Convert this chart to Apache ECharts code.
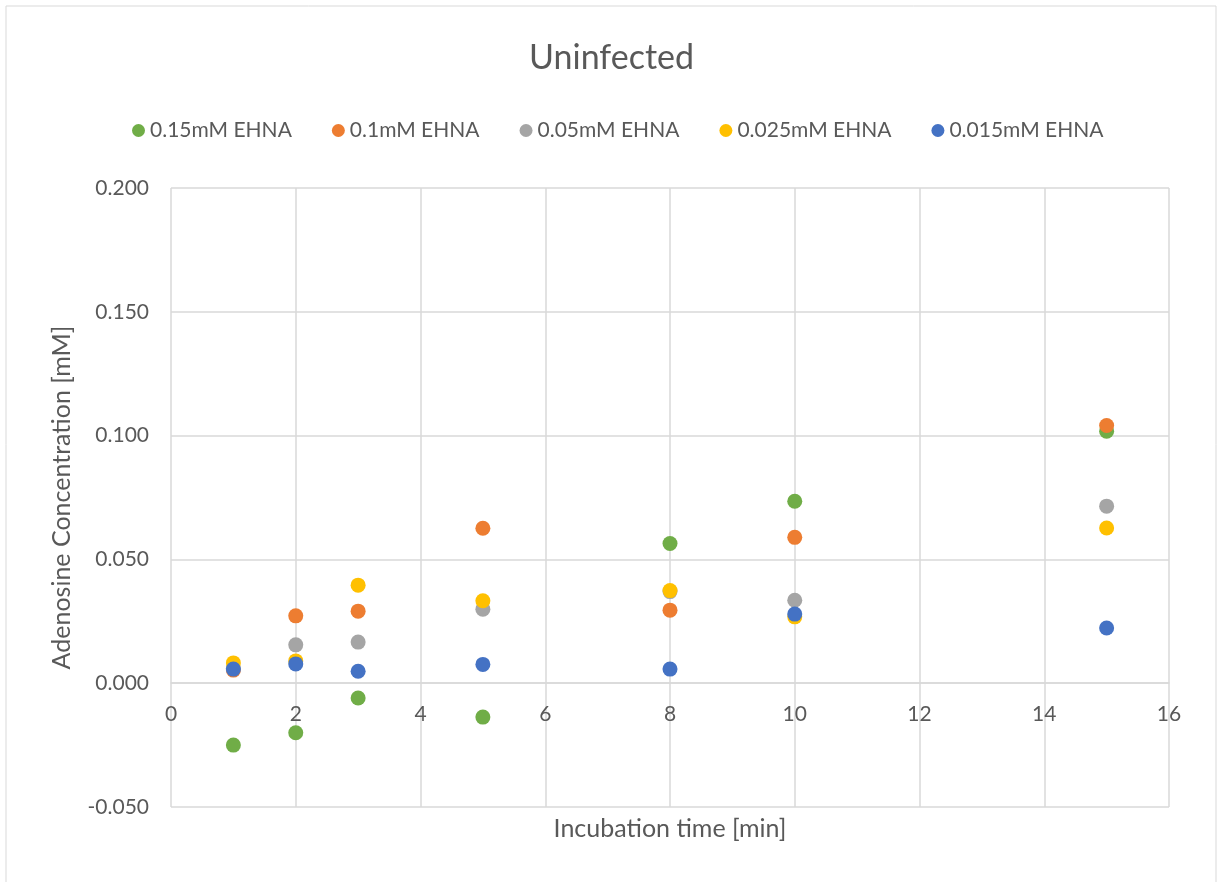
<!DOCTYPE html>
<html>
<head>
<meta charset="utf-8">
<script src="https://cdn.jsdelivr.net/npm/echarts@6/dist/echarts.min.js"></script>
<style>
  html, body { margin: 0; padding: 0; background: #ffffff; }
  #chart { width: 1223px; height: 882px; }
</style>
</head>
<body>
<div id="chart"></div>
<script>
// Incubation times (min) at which adenosine was measured
const times = [1, 2, 3, 5, 8, 10, 15];

// Adenosine concentration (mM) per EHNA dose
const ehna015 = [-0.025, -0.020, -0.006, -0.0137, 0.0564, 0.0735, 0.1018];
const ehna010 = [0.0053, 0.0272, 0.0291, 0.0626, 0.0295, 0.0589, 0.1041];
const ehna005 = [0.0060, 0.0155, 0.0166, 0.0299, 0.0370, 0.0335, 0.0715];
const ehna0025 = [0.0082, 0.0090, 0.0396, 0.0333, 0.0374, 0.0268, 0.0627];
const ehna0015 = [0.0057, 0.0078, 0.0048, 0.0076, 0.0057, 0.0279, 0.0223];

const seriesNames = ['0.15mM EHNA', '0.1mM EHNA', '0.05mM EHNA', '0.025mM EHNA', '0.015mM EHNA'];
const seriesValues = [ehna015, ehna010, ehna005, ehna0025, ehna0015];
const seriesColors = ['#70AD47', '#ED7D31', '#A5A5A5', '#FFC000', '#4472C4'];

// Axis ranges
const xMin = 0, xMax = 16, xStep = 2;
const yMin = -0.05, yMax = 0.2, yStep = 0.05;

const font = 'Lato, "Open Sans", sans-serif';
const textColor = '#595959';
const gridColor = '#d9d9d9';

const gridBox = { left: 171, right: 54, top: 188, bottom: 75 };
const plotCenterX = gridBox.left + (1223 - gridBox.left - gridBox.right) / 2;

const chart = echarts.init(document.getElementById('chart'), null, { renderer: 'canvas' });

chart.setOption({
  backgroundColor: '#ffffff',
  animation: false,
  title: {
    text: 'Uninfected',
    left: 'center',
    top: 36,
    textStyle: { fontFamily: font, fontSize: 34, fontWeight: 'normal', color: textColor }
  },
  legend: {
    top: 115,
    left: 127,
    icon: 'circle',
    itemWidth: 13,
    itemHeight: 13,
    itemGap: 40,
    textStyle: { fontFamily: font, fontSize: 21, color: textColor },
    data: seriesNames
  },
  graphic: [{
    type: 'rect',
    shape: { x: 6, y: 6, width: 1210, height: 900 },
    style: { fill: 'none', stroke: gridColor, lineWidth: 1 },
    silent: true
  }, {
    // x-axis title sits under the plot area; the axis itself runs along y = 0
    type: 'text',
    x: plotCenterX,
    y: 829,
    style: {
      text: 'Incubation time [min]',
      fontFamily: font, fontSize: 25, fill: textColor,
      align: 'center', verticalAlign: 'middle'
    },
    silent: true
  }],
  grid: Object.assign({ containLabel: false }, gridBox),
  xAxis: {
    type: 'value',
    min: xMin, max: xMax, interval: xStep,
    axisLine: { show: true, onZero: false, lineStyle: { color: gridColor, width: 1.5 } },
    axisTick: { show: false },
    axisLabel: { fontFamily: font, fontSize: 21, color: textColor, margin: 21 },
    splitLine: { show: true, lineStyle: { color: gridColor, width: 1.5 } }
  },
  yAxis: {
    type: 'value',
    min: yMin, max: yMax, interval: yStep,
    name: 'Adenosine Concentration [mM]',
    nameLocation: 'middle',
    nameGap: 97,
    nameTextStyle: { fontFamily: font, fontSize: 25, color: textColor },
    axisLine: { show: false, onZero: false },
    axisTick: { show: false },
    axisLabel: {
      fontFamily: font, fontSize: 21, color: textColor, margin: 22,
      formatter: v => v.toFixed(3)
    },
    splitLine: { show: true, lineStyle: { color: gridColor, width: 1.5 } }
  },
  series: seriesNames.map((name, i) => ({
    name,
    type: 'scatter',
    symbol: 'circle',
    symbolSize: 15,
    itemStyle: { color: seriesColors[i], opacity: 1 },
    data: times.map((t, j) => [t, seriesValues[i][j]])
  }))
});

// Move the x axis (line and tick labels) up from the plot bottom to the y = 0 line
const zeroY = chart.convertToPixel({ yAxisIndex: 0 }, 0);
const bottomY = chart.convertToPixel({ yAxisIndex: 0 }, yMin);
chart.setOption({ xAxis: { offset: -(bottomY - zeroY) } });
</script>
</body>
</html>
